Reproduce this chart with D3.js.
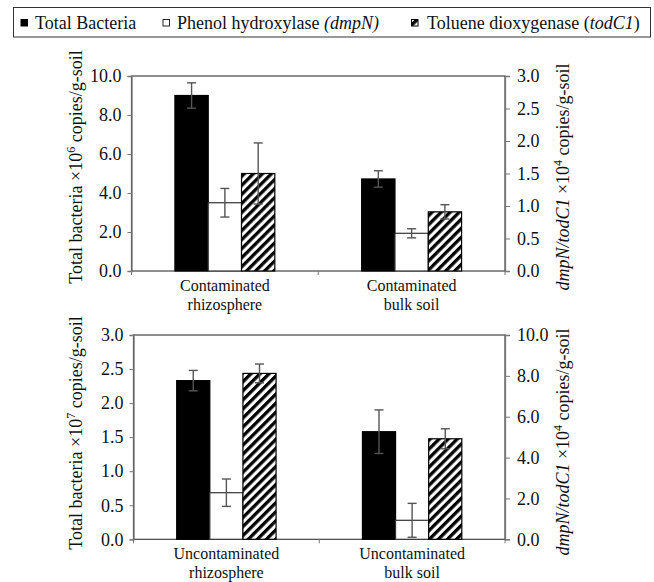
<!DOCTYPE html>
<html>
<head>
<meta charset="utf-8">
<script src="https://cdn.jsdelivr.net/npm/d3@7"></script>
<style>
  body { margin: 0; background: #fff; }
  svg text { font-family: "Liberation Serif", "Times New Roman", "Liberation Sans", serif; fill: #111; }
</style>
</head>
<body>
<svg width="654" height="582"></svg>
<script>
// ---- data ----
var series = ["Total Bacteria", "dmpN", "todC1"];

var topCategories = [["Contaminated", "rhizosphere"], ["Contaminated", "bulk soil"]];
var topTotal = [9.0, 4.72],      topTotalErr = [0.65, 0.42];   // x10^6, left axis
var topDmpN = [1.05, 0.58],      topDmpNErr = [0.22, 0.07];    // x10^4, right axis
var topTodC1 = [1.50, 0.91],     topTodC1Err = [0.47, 0.11];
var topLeftTicks = [0, 2, 4, 6, 8, 10];
var topRightTicks = [0, 0.5, 1, 1.5, 2, 2.5, 3];

var botCategories = [["Uncontaminated", "rhizosphere"], ["Uncontaminated", "bulk soil"]];
var botTotal = [2.33, 1.58],     botTotalErr = [0.15, 0.32];   // x10^7, left axis
var botDmpN = [2.28, 0.93],      botDmpNErr = [0.67, 0.83];    // x10^4, right axis
var botTodC1 = [8.12, 4.92],     botTodC1Err = [0.46, 0.49];
var botLeftTicks = [0, 0.5, 1, 1.5, 2, 2.5, 3];
var botRightTicks = [0, 2, 4, 6, 8, 10];

var svg = d3.select("svg");
var fmt = d3.format(".1f");
var FONT = '"Liberation Serif", "Times New Roman", "Liberation Sans", serif';

// hatch pattern
svg.append("defs").append("pattern")
    .attr("id", "hatch")
    .attr("patternUnits", "userSpaceOnUse")
    .attr("width", 6.4).attr("height", 6.4)
    .attr("patternTransform", "rotate(45)")
  .call(function(p) {
      p.append("rect").attr("width", 6.4).attr("height", 6.4).attr("fill", "#fff");
      p.append("rect").attr("width", 3.3).attr("height", 6.4).attr("fill", "#000");
  });

// ---- legend ----
var legend = svg.append("g");
legend.append("rect")
    .attr("x", 13.5).attr("y", 7.5).attr("width", 637).attr("height", 29.5)
    .attr("fill", "none").attr("stroke", "#333").attr("stroke-width", 1);

var legendItems = [
  {x: 21, fill: "#000", stroke: "#000"},
  {x: 163, fill: "#fff", stroke: "#222"},
  {x: 411.5, fill: "url(#hatch)", stroke: "#000"}
];
legend.selectAll(".mark").data(legendItems).enter().append("rect")
    .attr("x", function(d) { return d.x; }).attr("y", 19.5)
    .attr("width", 6.5).attr("height", 6.5)
    .attr("fill", function(d) { return d.fill; })
    .attr("stroke", function(d) { return d.stroke; }).attr("stroke-width", 1);

var lt1 = legend.append("text").attr("x", 35).attr("y", 28.5).style("font-size", "18px");
lt1.append("tspan").text("Total Bacteria");
var lt2 = legend.append("text").attr("x", 177).attr("y", 28.5).style("font-size", "18px");
lt2.append("tspan").text("Phenol hydroxylase ");
lt2.append("tspan").style("font-style", "italic").text("(dmpN)");
var lt3 = legend.append("text").attr("x", 427).attr("y", 28.5).style("font-size", "18px");
lt3.append("tspan").text("Toluene dioxygenase (");
lt3.append("tspan").style("font-style", "italic").text("todC1");
lt3.append("tspan").text(")");

// ---- panels ----
function drawPanel(cfg) {
  var width = cfg.right - cfg.left, height = cfg.bottom - cfg.top;
  var g = svg.append("g").attr("transform", "translate(" + cfg.left + "," + cfg.top + ")");

  var x0 = d3.scaleBand().domain([0, 1]).range([0, width])
      .paddingInner(0.465).paddingOuter(0.2325);
  var x1 = d3.scaleBand().domain(series).range([0, x0.bandwidth()]);
  var yL = d3.scaleLinear().domain(cfg.leftDomain).range([height, 0]);
  var yR = d3.scaleLinear().domain(cfg.rightDomain).range([height, 0]);

  var rows = [];
  [0, 1].forEach(function(i) {
    rows.push({cat: i, s: "Total Bacteria", v: cfg.total[i], e: cfg.totalErr[i], y: yL, fill: "#000", stroke: "#000"});
    rows.push({cat: i, s: "dmpN", v: cfg.dmpN[i], e: cfg.dmpNErr[i], y: yR, fill: "#fff", stroke: "#333"});
    rows.push({cat: i, s: "todC1", v: cfg.todC1[i], e: cfg.todC1Err[i], y: yR, fill: "url(#hatch)", stroke: "#000"});
  });

  // plot frame
  g.append("rect").attr("width", width).attr("height", height)
      .attr("fill", "none").attr("stroke", "#444").attr("stroke-width", 1.2);

  // category ticks
  g.selectAll(".ctick").data([0, width / 2, width]).enter().append("line")
      .attr("x1", function(d) { return d; }).attr("x2", function(d) { return d; })
      .attr("y1", height).attr("y2", height + 4)
      .attr("stroke", "#777");

  // left axis
  var axL = g.append("g")
      .call(d3.axisLeft(yL).tickValues(cfg.leftTicks).tickFormat(fmt).tickSize(4).tickPadding(6));
  axL.attr("font-family", null);
  axL.select(".domain").attr("stroke", "#777").attr("stroke-width", 1.3);
  axL.selectAll(".tick line").attr("stroke", "#777");
  axL.selectAll("text").style("font-size", "18px").attr("fill", "#111").style("font-family", FONT);

  // right axis
  var axR = g.append("g").attr("transform", "translate(" + width + ",0)")
      .call(d3.axisRight(yR).tickValues(cfg.rightTicks).tickFormat(fmt).tickSize(5).tickPadding(7));
  axR.attr("font-family", null);
  axR.select(".domain").attr("stroke", "#777").attr("stroke-width", 1.3);
  axR.selectAll(".tick line").attr("stroke", "#777");
  axR.selectAll("text").style("font-size", "18px").attr("fill", "#111").style("font-family", FONT);

  // bars
  g.selectAll(".bar").data(rows).enter().append("rect")
      .attr("x", function(d) { return x0(d.cat) + x1(d.s); })
      .attr("y", function(d) { return d.y(d.v); })
      .attr("width", x1.bandwidth())
      .attr("height", function(d) { return height - d.y(d.v); })
      .attr("fill", function(d) { return d.fill; })
      .attr("stroke", function(d) { return d.stroke; })
      .attr("stroke-width", 1.2);

  // error bars
  var eb = g.selectAll(".err").data(rows).enter().append("g")
      .attr("transform", function(d) { return "translate(" + (x0(d.cat) + x1(d.s) + x1.bandwidth() / 2) + ",0)"; });
  eb.append("line")
      .attr("y1", function(d) { return d.y(d.v - d.e); })
      .attr("y2", function(d) { return d.y(d.v + d.e); })
      .attr("stroke", "#555").attr("stroke-width", 1.4);
  eb.append("line").attr("x1", -4.5).attr("x2", 4.5)
      .attr("y1", function(d) { return d.y(d.v + d.e); })
      .attr("y2", function(d) { return d.y(d.v + d.e); })
      .attr("stroke", "#555").attr("stroke-width", 1.4);
  eb.append("line").attr("x1", -4.5).attr("x2", 4.5)
      .attr("y1", function(d) { return d.y(d.v - d.e); })
      .attr("y2", function(d) { return d.y(d.v - d.e); })
      .attr("stroke", "#555").attr("stroke-width", 1.4);

  // category labels
  var cl = g.selectAll(".cat").data(cfg.categories).enter().append("text")
      .attr("text-anchor", "middle")
      .style("font-size", "16px")
      .attr("transform", function(d, i) { return "translate(" + (x0(i) + x0.bandwidth() / 2) + "," + (height + 20) + ")"; });
  cl.selectAll("tspan").data(function(d) { return d; }).enter().append("tspan")
      .attr("x", 0).attr("dy", function(d, i) { return i ? 18.5 : 0; })
      .text(function(d) { return d; });

  // left title
  var tl = svg.append("text")
      .attr("transform", "translate(" + cfg.leftTitleX + "," + cfg.leftTitleY + ") rotate(-90)")
      .attr("text-anchor", "middle").attr("dy", "0.35em").style("font-size", "18px");
  tl.append("tspan").text("Total bacteria \u00d710");
  tl.append("tspan").attr("dy", -7).style("font-size", "12px").text(cfg.exp);
  tl.append("tspan").attr("dy", 7).text(" copies/g-soil");

  // right title
  var tr = svg.append("text")
      .attr("transform", "translate(" + cfg.rightTitleX + "," + cfg.rightTitleY + ") rotate(-90)")
      .attr("text-anchor", "middle").attr("dy", "0.35em").style("font-size", "18px");
  tr.append("tspan").style("font-style", "italic").text("dmpN/todC1");
  tr.append("tspan").text(" \u00d710");
  tr.append("tspan").attr("dy", -7).style("font-size", "12px").text("4");
  tr.append("tspan").attr("dy", 7).text(" copies/g-soil");
}

drawPanel({
  left: 131.5, right: 505, top: 76, bottom: 271,
  leftDomain: [0, 10], rightDomain: [0, 3],
  leftTicks: topLeftTicks, rightTicks: topRightTicks,
  total: topTotal, totalErr: topTotalErr,
  dmpN: topDmpN, dmpNErr: topDmpNErr,
  todC1: topTodC1, todC1Err: topTodC1Err,
  categories: topCategories, exp: "6",
  leftTitleX: 76, leftTitleY: 167, rightTitleX: 563, rightTitleY: 177
});

drawPanel({
  left: 133.5, right: 505, top: 335, bottom: 539.3,
  leftDomain: [0, 3], rightDomain: [0, 10],
  leftTicks: botLeftTicks, rightTicks: botRightTicks,
  total: botTotal, totalErr: botTotalErr,
  dmpN: botDmpN, dmpNErr: botDmpNErr,
  todC1: botTodC1, todC1Err: botTodC1Err,
  categories: botCategories, exp: "7",
  leftTitleX: 76, leftTitleY: 433, rightTitleX: 563, rightTitleY: 442
});
</script>
</body>
</html>
